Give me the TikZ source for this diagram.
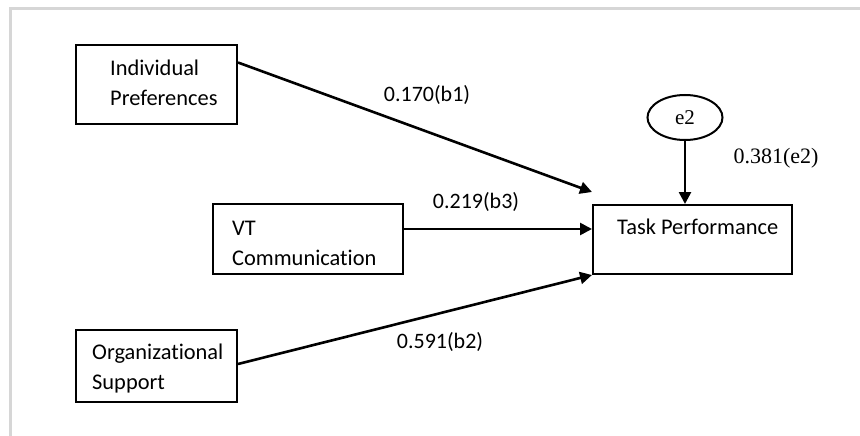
\documentclass[tikz,border=0pt]{standalone}
\usepackage{fontspec}
\setmainfont{Carlito}[Ligatures={NoCommon}]
\newfontfamily\timesfont{Liberation Serif}
\usetikzlibrary{arrows.meta,shapes.geometric,calc}
\begin{document}
\begin{tikzpicture}[x=1pt,y=-1pt,
  box/.style={draw=black, line width=2pt, rectangle, inner sep=0pt},
  boxtext/.style={anchor=west, align=left, inner sep=0pt, font=\fontsize{22.4}{30}\selectfont},
  coef/.style={inner sep=0pt, font=\fontsize{22}{26}\selectfont},
  serifcoef/.style={inner sep=0pt, font=\timesfont\fontsize{22}{26}\selectfont},
  arr/.style={line width=2.6pt, -{Triangle[length=12pt,width=12pt]}},
  frameline/.style={draw=black!16, line width=3pt}
]
\useasboundingbox (0,0) rectangle (860,436);
\fill[white] (0,0) rectangle (860,436);
\draw[frameline] (10,436) -- (10,9) -- (860,9);

% boxes
\node[box, minimum width=161pt, minimum height=79pt] (ip) at (156.5,84.5) {};
\node[boxtext] (iptext) at (110,83) {Individual\\Preferences};

\node[box, minimum width=190pt, minimum height=70pt] (vt) at (308,239) {};
\node[boxtext] (vttext) at (232,243) {VT\\Communication};

\node[box, minimum width=161pt, minimum height=72pt] (os) at (156.5,366) {};
\node[boxtext] (ostext) at (92,369) {Organizational\\Support};

\node[box, minimum width=199pt, minimum height=69pt] (tp) at (692.5,239.5) {};
\node[boxtext] (tptext) at (617,227) {Task Performance};

\node[draw=black, line width=2pt, ellipse, minimum width=75pt, minimum height=45pt, inner sep=0pt,
      font=\timesfont\fontsize{21}{24}\selectfont] (e2) at (685,117.5) {e2};

% arrows
\draw[arr] ([yshift=22pt]ip.east) -- ($(tp.north west)+(0,-12)$);
\draw[arr] ([yshift=10pt]vt.east) -- ([yshift=10pt]vt.east -| tp.west);
\draw[arr] ([yshift=2pt]os.east) -- (tp.south west);
\draw[arr] (e2.south) -- (e2.south |- tp.north);

% coefficients
\node[coef] (b1) at (427,95) {0.170(b1)};
\node[coef] (b3) at (476,202) {0.219(b3)};
\node[coef] (b2) at (440,342) {0.591(b2)};
\node[serifcoef] (e2c) at (776,158) {0.381(e2)};
\end{tikzpicture}
\end{document}
